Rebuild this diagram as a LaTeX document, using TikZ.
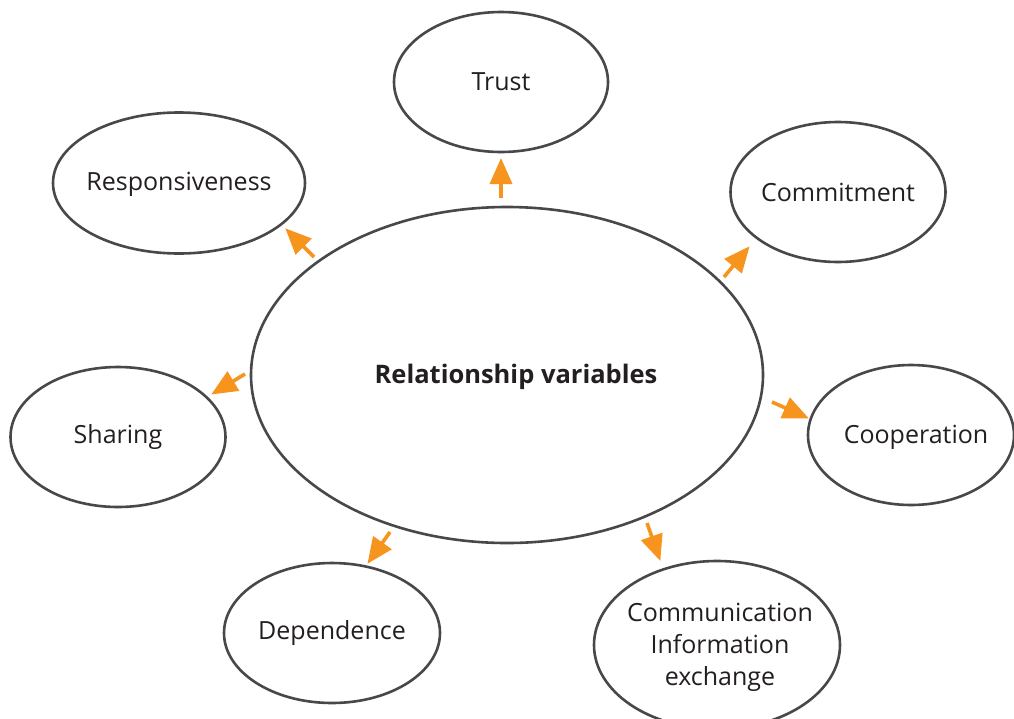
\documentclass[tikz,border=0pt]{standalone}
\usepackage{fontspec}
\setmainfont{Open Sans}
\usetikzlibrary{arrows.meta,shapes.geometric}
\definecolor{edge}{HTML}{48474A}
\definecolor{arr}{HTML}{F7941D}
\definecolor{txt}{HTML}{231F20}
\tikzset{
  oval/.style={draw=edge, line width=2.6pt, ellipse, inner sep=0pt},
  lbl/.style={text=txt, font=\fontsize{25}{32}\selectfont, align=center, inner sep=0pt},
  arrowline/.style={draw=arr, line width=3.6pt, -{Triangle[length=26pt,width=22pt]}, shorten >=-1pt}
}
\begin{document}
\begin{tikzpicture}[x=1pt,y=-1pt]
\clip (0,0) rectangle (1014,718);
\fill[white] (0,0) rectangle (1014,718);
\node[oval, minimum width=512pt, minimum height=336pt] (rv) at (507,375) {};
\node[lbl, font=\fontsize{25.5}{30}\selectfont\bfseries] (rvt) at (516,377) {Relationship variables};
\node[oval, minimum width=214pt, minimum height=140pt] (trust) at (501,82) {};
\node[lbl] (trustt) at (501,82) {Trust};
\node[oval, minimum width=252pt, minimum height=141pt] (resp) at (179,183) {};
\node[lbl] (respt) at (179,184) {Responsiveness};
\node[oval, minimum width=215pt, minimum height=140pt] (comm) at (838,192) {};
\node[lbl] (commt) at (838,192) {Commitment};
\node[oval, minimum width=215pt, minimum height=140pt] (share) at (118,437) {};
\node[lbl] (sharet) at (118,437) {Sharing};
\node[oval, minimum width=206pt, minimum height=140pt] (coop) at (911,435) {};
\node[lbl] (coopt) at (916,437) {Cooperation};
\node[oval, minimum width=246pt, minimum height=168pt] (info) at (717,645) {};
\node[lbl] (infot) at (720,647) {Communication\\Information\\exchange};
\node[oval, minimum width=216pt, minimum height=140pt] (dep) at (332,633) {};
\node[lbl] (dept) at (332,633) {Dependence};
\coordinate (t0) at (501,198); \coordinate (t1) at (501,159);
\coordinate (r0) at (314,257); \coordinate (r1) at (286,229);
\coordinate (c0) at (724,277); \coordinate (c1) at (749,247);
\coordinate (s0) at (245,374); \coordinate (s1) at (212,394);
\coordinate (o0) at (772,402); \coordinate (o1) at (808,418);
\coordinate (d0) at (390,532); \coordinate (d1) at (368,563);
\coordinate (i0) at (647,523); \coordinate (i1) at (660,560);
\draw[arrowline] (t0) -- (t1);
\draw[arrowline] (r0) -- (r1);
\draw[arrowline] (c0) -- (c1);
\draw[arrowline] (s0) -- (s1);
\draw[arrowline] (o0) -- (o1);
\draw[arrowline] (d0) -- (d1);
\draw[arrowline] (i0) -- (i1);
\end{tikzpicture}
\end{document}
